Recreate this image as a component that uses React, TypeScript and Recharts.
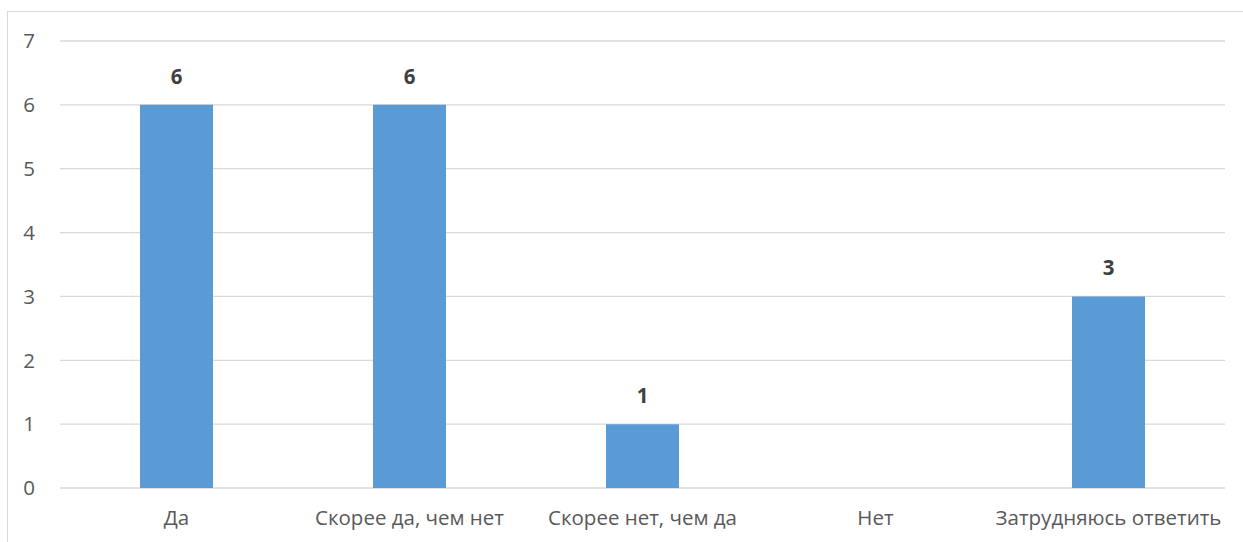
import React from "react";
import { BarChart, Bar, XAxis, YAxis, CartesianGrid, LabelList } from "recharts";

const categories = ["Да", "Скорее да, чем нет", "Скорее нет, чем да", "Нет", "Затрудняюсь ответить"];
const values = [6, 6, 1, 0, 3];
const yTicks = [0, 1, 2, 3, 4, 5, 6, 7];

const data = categories.map((name, i) => ({ name, value: values[i] }));

const FONT = "'Open Sans', sans-serif";

export default function App() {
  return (
    <div style={{ position: "fixed", left: 0, top: 0, width: 1243, height: 542, background: "#fff", overflow: "hidden" }}>
      <div style={{ position: "absolute", left: 7, top: 11, width: 1250, height: 560, border: "1px solid #d9d9d9", boxSizing: "border-box" }} />
      <div style={{ position: "absolute", left: 0, top: 0 }}>
        <BarChart
          width={1243}
          height={542}
          data={data}
          margin={{ top: 41, right: 18, bottom: 24, left: 0 }}
          barCategoryGap={0}
        >
          <CartesianGrid vertical={false} stroke="#d9d9d9" strokeWidth={1.3} />
          <XAxis
            dataKey="name"
            height={30}
            axisLine={false}
            tickLine={false}
            tickSize={0}
            tickMargin={22}
            interval={0}
            tick={{ fill: "#595959", fontSize: 20.5, fontFamily: FONT }}
          />
          <YAxis
            width={60}
            domain={[0, 7]}
            ticks={yTicks}
            interval={0}
            axisLine={false}
            tickLine={false}
            tickSize={0}
            tickMargin={25}
            tick={{ fill: "#595959", fontSize: 20.5, fontFamily: FONT }}
          />
          <Bar dataKey="value" fill="#5b9bd5" barSize={73} isAnimationActive={false}>
            <LabelList
              dataKey="value"
              position="top"
              offset={21}
              formatter={(v: any) => (v === 0 ? "" : v)}
              style={{ fill: "#404040", fontSize: 20.5, fontWeight: 700, fontFamily: FONT }}
            />
          </Bar>
        </BarChart>
      </div>
    </div>
  );
}
